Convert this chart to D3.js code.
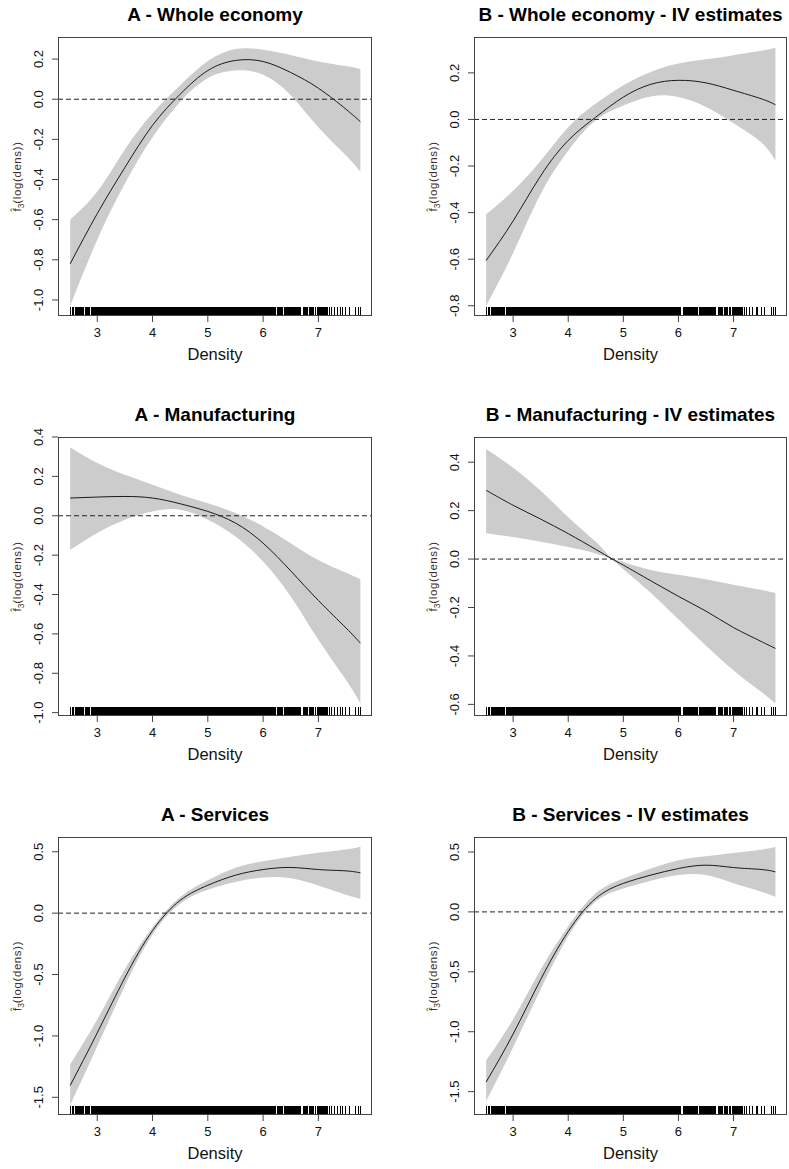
<!DOCTYPE html>
<html>
<head>
<meta charset="utf-8">
<script src="https://cdn.jsdelivr.net/npm/d3@7"></script>
<style>
body { margin: 0; background: #fff; }
svg { display: block; }
text { font-family: "Liberation Sans", Arial, sans-serif; }
</style>
</head>
<body>
<svg id="chart" width="789" height="1169"></svg>
<script>
// density grid the smooths were read at
const densityGrid = [2.51, 3, 3.5, 4, 4.5, 5, 5.5, 6, 6.5, 7, 7.5, 7.76];
const densityGridManufIV = [2.51, 3, 3.5, 4, 4.5, 4.8, 5, 5.5, 6, 6.5, 7, 7.5, 7.76];

// A - Whole economy
const wholeFit   = [-0.82, -0.57, -0.34, -0.13, 0.025, 0.143, 0.193, 0.188, 0.133, 0.055, -0.05, -0.112];
const wholeUpper = [-0.60, -0.46, -0.25, -0.07, 0.07, 0.19, 0.25, 0.247, 0.22, 0.188, 0.165, 0.15];
const wholeLower = [-1.03, -0.70, -0.42, -0.19, -0.012, 0.105, 0.143, 0.122, 0.02, -0.14, -0.28, -0.36];

// B - Whole economy - IV
const wholeIVFit   = [-0.606, -0.436, -0.242, -0.09, 0.01, 0.096, 0.151, 0.168, 0.157, 0.125, 0.089, 0.063];
const wholeIVUpper = [-0.407, -0.306, -0.177, -0.033, 0.068, 0.147, 0.204, 0.24, 0.258, 0.276, 0.295, 0.308];
const wholeIVLower = [-0.80, -0.573, -0.32, -0.134, -0.004, 0.06, 0.099, 0.096, 0.053, -0.016, -0.098, -0.177];

// A - Manufacturing
const manufFit   = [0.09, 0.095, 0.098, 0.09, 0.061, 0.022, -0.037, -0.139, -0.28, -0.43, -0.57, -0.647];
const manufUpper = [0.347, 0.268, 0.208, 0.158, 0.107, 0.064, 0.014, -0.054, -0.139, -0.225, -0.29, -0.322];
const manufLower = [-0.173, -0.088, -0.02, 0.022, 0.031, -0.02, -0.105, -0.232, -0.41, -0.63, -0.834, -0.953];

// B - Manufacturing - IV
const manufIVFit   = [0.284, 0.222, 0.165, 0.105, 0.04, 0.0, -0.025, -0.09, -0.154, -0.215, -0.283, -0.34, -0.369];
const manufIVUpper = [0.454, 0.377, 0.282, 0.173, 0.071, 0.004, -0.012, -0.045, -0.065, -0.083, -0.106, -0.127, -0.14];
const manufIVLower = [0.107, 0.091, 0.071, 0.05, 0.023, -0.004, -0.042, -0.14, -0.249, -0.358, -0.46, -0.548, -0.596];

// A - Services
const servFit   = [-1.404, -0.975, -0.525, -0.142, 0.104, 0.227, 0.309, 0.355, 0.372, 0.355, 0.344, 0.328];
const servUpper = [-1.23, -0.866, -0.456, -0.115, 0.131, 0.268, 0.369, 0.423, 0.459, 0.492, 0.519, 0.541];
const servLower = [-1.563, -1.085, -0.593, -0.175, 0.077, 0.191, 0.254, 0.29, 0.285, 0.225, 0.15, 0.117];

// B - Services - IV
const servIVFit   = [-1.42, -1.019, -0.564, -0.163, 0.113, 0.238, 0.307, 0.362, 0.39, 0.37, 0.354, 0.334];
const servIVUpper = [-1.24, -0.895, -0.48, -0.12, 0.155, 0.279, 0.362, 0.431, 0.464, 0.492, 0.519, 0.541];
const servIVLower = [-1.58, -1.13, -0.646, -0.204, 0.086, 0.196, 0.26, 0.307, 0.307, 0.238, 0.169, 0.127];

const titles = [
    "A - Whole economy", "B - Whole economy - IV estimates",
    "A - Manufacturing", "B - Manufacturing - IV estimates",
    "A - Services", "B - Services - IV estimates"
];

const xTicks = [3, 4, 5, 6, 7];
const yTicksWhole = [-1.0, -0.8, -0.6, -0.4, -0.2, 0.0, 0.2];
const yTicksWholeIV = [-0.8, -0.6, -0.4, -0.2, 0.0, 0.2];
const yTicksManuf = [-1.0, -0.8, -0.6, -0.4, -0.2, 0.0, 0.2, 0.4];
const yTicksManufIV = [-0.6, -0.4, -0.2, 0.0, 0.2, 0.4];
const yTicksServ = [-1.5, -1.0, -0.5, 0.0, 0.5];

// rug of observed densities: [from, to] (single ticks have from == to)
const rugSegments = [
    [2.508, 2.508], [2.535, 2.535], [2.566, 2.566], [2.59, 2.638], [2.656, 2.747],
    [2.77, 2.848], [2.879, 6.045], [6.074, 6.224], [6.255, 6.345], [6.374, 6.496],
    [6.526, 6.676], [6.718, 6.797], [6.826, 6.888], [6.911, 6.911], [6.942, 6.942],
    [6.978, 6.978], [6.989, 7.147], [7.188, 7.188], [7.231, 7.231], [7.279, 7.279],
    [7.34, 7.34], [7.4, 7.4], [7.43, 7.43], [7.49, 7.49], [7.55, 7.55],
    [7.671, 7.671], [7.712, 7.712], [7.761, 7.761]
];

const xDomain = [2.29, 7.97];

const panels = [
    { title: titles[0], grid: densityGrid, fit: wholeFit, upper: wholeUpper, lower: wholeLower, yTicks: yTicksWhole, yDomain: [-1.08, 0.31] },
    { title: titles[1], grid: densityGrid, fit: wholeIVFit, upper: wholeIVUpper, lower: wholeIVLower, yTicks: yTicksWholeIV, yDomain: [-0.844, 0.354] },
    { title: titles[2], grid: densityGrid, fit: manufFit, upper: manufUpper, lower: manufLower, yTicks: yTicksManuf, yDomain: [-1.017, 0.4] },
    { title: titles[3], grid: densityGridManufIV, fit: manufIVFit, upper: manufIVUpper, lower: manufIVLower, yTicks: yTicksManufIV, yDomain: [-0.648, 0.504], curve: d3.curveCatmullRom },
    { title: titles[4], grid: densityGrid, fit: servFit, upper: servUpper, lower: servLower, yTicks: yTicksServ, yDomain: [-1.644, 0.62] },
    { title: titles[5], grid: densityGrid, fit: servIVFit, upper: servIVUpper, lower: servIVLower, yTicks: yTicksServ, yDomain: [-1.695, 0.625] }
];

// plot box layout
const cols = [[58, 372], [474, 787]];
const rows = [[37, 316], [437, 716], [837, 1115]];

const svg = d3.select("#chart");
const fmt = d => d.toFixed(1);

panels.forEach((p, i) => {
    const [left, right] = cols[i % 2];
    const [top, bottom] = rows[Math.floor(i / 2)];
    const curve = p.curve || d3.curveNatural;

    const x = d3.scaleLinear().domain(xDomain).range([left, right]);
    const y = d3.scaleLinear().domain(p.yDomain).range([bottom, top]);

    const g = svg.append("g").attr("class", "panel");

    const pts = p.grid.map((d, k) => ({ x: d, fit: p.fit[k], hi: p.upper[k], lo: p.lower[k] }));

    const area = d3.area()
        .curve(curve)
        .x(d => x(d.x))
        .y0(d => y(d.lo))
        .y1(d => y(d.hi));

    const line = d3.line()
        .curve(curve)
        .x(d => x(d.x))
        .y(d => y(d.fit));

    g.append("path")
        .datum(pts)
        .attr("d", area)
        .attr("fill", "#cccccc");

    g.append("path")
        .datum(pts)
        .attr("d", line)
        .attr("fill", "none")
        .attr("stroke", "#1a1a1a")
        .attr("stroke-width", 1);

    g.append("line")
        .attr("x1", left).attr("x2", right)
        .attr("y1", y(0)).attr("y2", y(0))
        .attr("stroke", "#222")
        .attr("stroke-width", 1)
        .attr("stroke-dasharray", "5,3");

    // rug, one path for all segments
    const rug = d3.path();
    rugSegments.forEach(([a, b]) => {
        const x0 = Math.round(x(a)) - 0.5;
        const w = Math.max(1.5, x(b) - x(a) + 1.5);
        rug.rect(x0, bottom - 9, w, 9);
    });
    g.append("path")
        .attr("class", "rug")
        .attr("d", rug.toString())
        .attr("fill", "#000")
        .attr("shape-rendering", "crispEdges");

    // box
    g.append("rect")
        .attr("x", left + 0.5).attr("y", top + 0.5)
        .attr("width", right - left - 1).attr("height", bottom - top - 1)
        .attr("fill", "none")
        .attr("stroke", "#444")
        .attr("stroke-width", 1);

    // x axis
    const xa = g.append("g");
    xa.selectAll("line")
        .data(xTicks)
        .enter().append("line")
        .attr("x1", d => x(d)).attr("x2", d => x(d))
        .attr("y1", bottom).attr("y2", bottom + 6)
        .attr("stroke", "#444");
    xa.selectAll("text")
        .data(xTicks)
        .enter().append("text")
        .attr("x", d => x(d))
        .attr("y", bottom + 21)
        .attr("text-anchor", "middle")
        .attr("font-size", 13)
        .attr("fill", "#111")
        .text(d => d);

    // y axis
    const ya = g.append("g");
    ya.selectAll("line")
        .data(p.yTicks)
        .enter().append("line")
        .attr("x1", left - 6).attr("x2", left)
        .attr("y1", d => y(d)).attr("y2", d => y(d))
        .attr("stroke", "#444");
    ya.selectAll("text")
        .data(p.yTicks)
        .enter().append("text")
        .attr("transform", d => `translate(${left - 15},${y(d)}) rotate(-90)`)
        .attr("text-anchor", "middle")
        .attr("font-size", 13)
        .attr("fill", "#111")
        .text(fmt);

    // y label  f-hat_3(log(dens))
    const yl = g.append("text")
        .attr("transform", `translate(${left - 37},${(top + bottom) / 2}) rotate(-90)`)
        .attr("text-anchor", "middle")
        .attr("font-size", 11.5)
        .attr("fill", "#3c2f2f");
    yl.append("tspan").text("f\u0302");
    yl.append("tspan").attr("font-size", 8.5).attr("dy", 3).text("3");
    yl.append("tspan").attr("dy", -3).attr("letter-spacing", 0.6).text("(log(dens))");

    // x label
    g.append("text")
        .attr("x", (left + right) / 2)
        .attr("y", bottom + 44)
        .attr("text-anchor", "middle")
        .attr("font-size", 16.5)
        .attr("fill", "#111")
        .text("Density");

    // title
    g.append("text")
        .attr("x", (left + right) / 2)
        .attr("y", top - 16.5)
        .attr("text-anchor", "middle")
        .attr("font-size", 19)
        .attr("font-weight", "bold")
        .attr("fill", "#000")
        .text(p.title);
});
</script>
</body>
</html>
